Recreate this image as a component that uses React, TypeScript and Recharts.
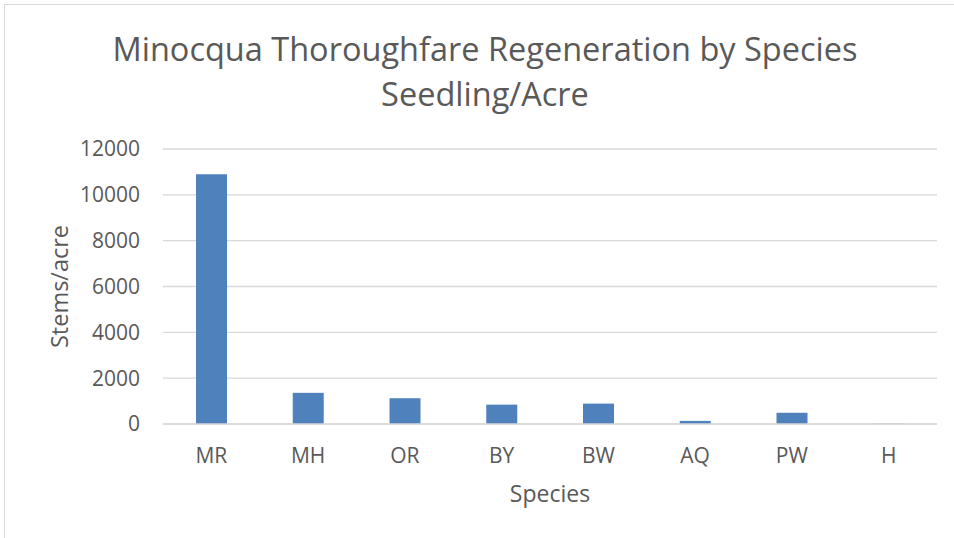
import React from "react";
import { BarChart, Bar, XAxis, YAxis, CartesianGrid } from "recharts";

const species = ["MR", "MH", "OR", "BY", "BW", "AQ", "PW", "H"];
const stemsPerAcre = [10900, 1360, 1125, 845, 890, 135, 490, 15];
const yTicks = [0, 2000, 4000, 6000, 8000, 10000, 12000];
const titleLines = ["Minocqua Thoroughfare Regeneration by Species", "Seedling/Acre"];

const data = species.map((s, i) => ({ species: s, value: stemsPerAcre[i] }));

const FONT = "'Open Sans', 'Noto Sans', sans-serif";
const TEXT = "#595959";

export default function App() {
  return (
    <div style={{ position: "absolute", left: 0, top: 0, width: 954, height: 538, background: "#fff", fontFamily: FONT }}>
      <div style={{ position: "absolute", left: 4, top: 4, width: 960, height: 540, border: "1px solid #D9D9D9", boxSizing: "border-box" }} />
      <div style={{ position: "absolute", left: 0, top: 26, width: 970, textAlign: "center", color: TEXT, fontSize: 32.5, lineHeight: "45px" }}>
        {titleLines.map((t) => (
          <div key={t}>{t}</div>
        ))}
      </div>
      <BarChart
        width={954}
        height={538}
        data={data}
        margin={{ top: 149, right: 17, bottom: 0, left: 0 }}
        barCategoryGap={0}
        style={{ position: "absolute", left: 0, top: 0 }}
      >
        <CartesianGrid vertical={false} stroke="#D9D9D9" strokeWidth={1.3} />
        <XAxis
          dataKey="species"
          height={114}
          tickLine={false}
          axisLine={{ stroke: "#D9D9D9", strokeWidth: 1.3 }}
          tick={{ fill: TEXT, fontSize: 21, fontFamily: FONT }}
          tickMargin={18}
          label={{ value: "Species", position: "insideBottom", offset: 36, fill: TEXT, fontSize: 23, fontFamily: FONT }}
        />
        <YAxis
          width={163}
          domain={[0, 12000]}
          ticks={yTicks}
          interval={0}
          tickLine={false}
          axisLine={false}
          tick={{ fill: TEXT, fontSize: 21, fontFamily: FONT }}
          tickMargin={17}
          label={{ value: "Stems/acre", angle: -90, position: "insideLeft", offset: 60, fill: TEXT, fontSize: 23.5, fontFamily: FONT, style: { textAnchor: "middle" } }}
        />
        <Bar dataKey="value" fill="#4F81BD" barSize={31} isAnimationActive={false} />
      </BarChart>
    </div>
  );
}
